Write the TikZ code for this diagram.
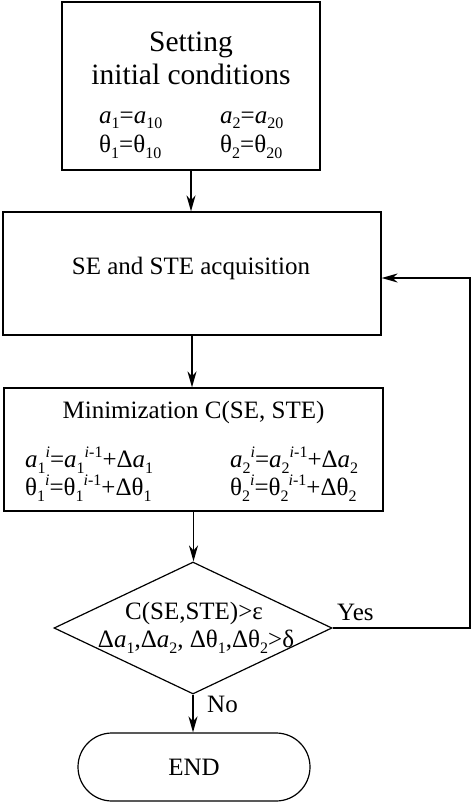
\documentclass[tikz,border=0pt]{standalone}
\usepackage{fontspec}
\setmainfont{Liberation Serif}
\usetikzlibrary{arrows.meta,shapes.geometric,shapes.misc}
\newcommand\mysub[1]{\raisebox{-0.22em}{\fontsize{16}{16}\selectfont #1}}
\newcommand\mysup[1]{\raisebox{0.42em}{\fontsize{16}{16}\selectfont #1}}
\newcommand\ita{\textit{a}}
\begin{document}
\begin{tikzpicture}[x=1pt,y=-1pt,
  box/.style={draw,line width=1.2pt,inner sep=0pt},
  txt/.style={inner sep=0pt,font=\fontsize{25}{30}\selectfont},
  ttl/.style={inner sep=0pt,font=\fontsize{29.5}{35}\selectfont,align=center},
  arr/.style={line width=1.6pt,-{Stealth[length=16pt,width=9pt,inset=5pt]}}]
\useasboundingbox[fill=white] (0,0) rectangle (472,803);
% box 1
\node[box,minimum width=258pt,minimum height=168pt] (b1) at (191,86) {};
\node[ttl] (t1) at (191,58) {Setting\\[-2pt]initial conditions};
\node[txt,anchor=west] (e11) at (99,120) {\ita\mysub{1}=\ita\mysub{10}};
\node[txt,anchor=west] (e12) at (220,120) {\ita\mysub{2}=\ita\mysub{20}};
\node[txt,anchor=west] (e13) at (99,147) {θ\mysub{1}=θ\mysub{10}};
\node[txt,anchor=west] (e14) at (220,147) {θ\mysub{2}=θ\mysub{20}};
% box 2
\node[box,minimum width=378pt,minimum height=123pt] (b2) at (192,273.5) {};
\node[txt] (t2) at (191,268) {SE and STE acquisition};
% box 3
\node[box,minimum width=379pt,minimum height=123pt] (b3) at (193.5,449.5) {};
\node[txt] (t3) at (193.5,412) {Minimization C(SE, STE)};
\node[txt,anchor=west] (e31) at (25,460) {\ita\mysub{1}\mysup{\textit{i}}=\ita\mysub{1}\mysup{\textit{i}-1}+Δ\ita\mysub{1}};
\node[txt,anchor=west] (e32) at (230,460) {\ita\mysub{2}\mysup{\textit{i}}=\ita\mysub{2}\mysup{\textit{i}-1}+Δ\ita\mysub{2}};
\node[txt,anchor=west] (e33) at (25,488) {θ\mysub{1}\mysup{\textit{i}}=θ\mysub{1}\mysup{\textit{i}-1}+Δθ\mysub{1}};
\node[txt,anchor=west] (e34) at (230,488) {θ\mysub{2}\mysup{\textit{i}}=θ\mysub{2}\mysup{\textit{i}-1}+Δθ\mysub{2}};
% decision
\node[diamond,draw,line width=1.2pt,inner sep=0pt,minimum width=278pt,minimum height=132pt] (d) at (193,628) {};
\node[txt] (d1) at (194,613) {C(SE,STE)>ε};
\node[txt] (d2) at (196,642) {Δ\ita\mysub{1},Δ\ita\mysub{2}, Δθ\mysub{1},Δθ\mysub{2}>δ};
% end
\node[rounded rectangle,draw,line width=1.2pt,minimum width=232pt,minimum height=68pt,inner sep=0pt,font=\fontsize{25}{30}\selectfont] (end) at (194,767) {END};
% connectors
\draw[arr] (b1.south) -- (b1.south |- b2.north);
\draw[arr] (b2.south) -- (b2.south |- b3.north);
\draw[arr] (b3.south) -- (b3.south |- d.north);
\draw[arr] (d.south) -- (d.south |- end.north);
\coordinate (fb) at (470,628);
\draw[arr] (d.east) -- (fb) |- ([yshift=-4.5pt]b2.east);
\node[txt,anchor=west] (yes) at (337,612) {Yes};
\node[txt,anchor=west] (no) at (207,704) {No};
\end{tikzpicture}
\end{document}
